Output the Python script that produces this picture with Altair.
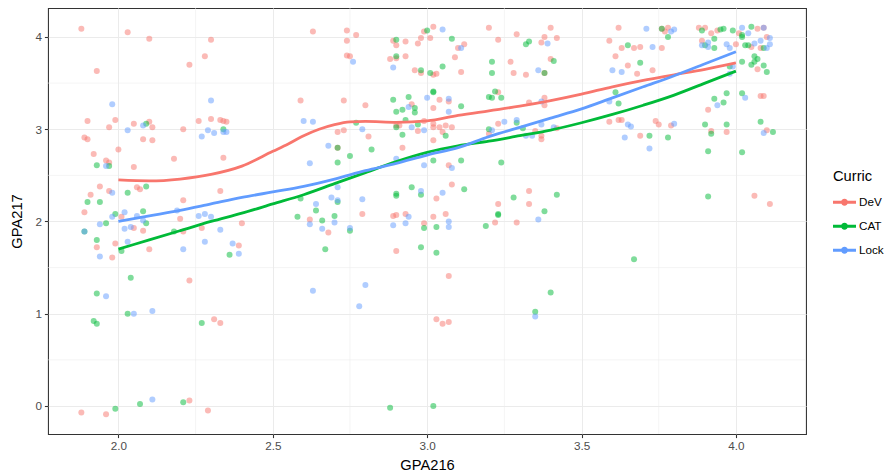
import altair as alt
import pandas as pd

curric = ["DeV", "CAT", "Lock"]
colors = ["#F8766D", "#00BA38", "#619CFF"]

dev_x = [1.88,2.03,2.10,1.93,1.90,1.99,1.97,2.05,2.10,2.11,1.89,1.90,2.08,2.11,2.00,1.92,2.18,1.96,1.97,2.05,
         1.94,1.97,2.06,2.07,1.91,1.89,2.01,2.20,2.05,2.08,1.93,1.99,1.98,2.10,2.21,2.27,2.40,2.39,2.23,2.31,
         2.33,1.88,1.96,2.23,2.29,2.30,2.28,2.23,2.26,2.30,2.33,2.34,2.35,2.21,2.34,2.33,2.21,2.59,2.63,2.74,
         2.74,2.77,2.74,2.75,2.89,2.90,2.93,2.97,2.98,2.99,3.01,3.02,3.10,3.12,3.09,2.88,2.90,2.93,2.96,2.98,
         3.02,3.03,3.11,2.73,2.80,3.04,3.07,2.95,3.02,2.71,2.73,2.81,2.90,2.91,2.99,2.97,3.02,3.02,3.04,3.06,
         3.08,3.05,3.02,2.92,2.71,3.07,3.08,3.03,2.79,2.89,2.90,2.93,3.02,3.06,2.62,2.68,2.99,3.22,3.29,2.90,
         3.07,3.03,3.05,3.07,3.20,3.23,3.29,3.40,3.38,3.37,3.42,3.27,3.28,3.32,3.38,3.40,3.59,3.62,3.63,3.61,
         3.65,3.23,3.33,3.38,3.38,3.20,3.23,3.35,3.37,3.37,3.42,3.59,3.62,3.63,3.23,3.33,3.33,3.76,3.78,3.77,
         3.88,3.90,3.92,3.94,4.01,4.07,4.09,4.10,3.89,4.00,4.05,4.08,3.67,3.69,3.76,3.68,3.73,4.07,4.08,4.09,
         3.91,3.74,3.75,3.79,3.92,3.97,4.10,3.69,4.06,4.11]
dev_y = [4.09,4.05,3.98,3.63,3.09,3.10,3.02,3.06,3.08,3.02,2.91,2.89,2.89,2.88,2.78,2.73,2.68,2.66,2.64,2.59,
         2.38,2.33,2.37,2.35,2.29,2.10,2.05,2.03,1.93,1.90,1.72,1.76,1.61,1.70,1.89,1.93,1.98,1.74,1.36,0.94,
         0.90,-0.07,-0.09,0.06,-0.05,3.97,3.79,3.70,3.09,3.11,3.10,3.09,3.08,3.00,2.69,2.33,2.23,3.31,4.06,4.07,
         3.96,4.02,3.80,3.79,3.96,3.91,3.95,3.93,3.99,4.06,3.99,4.11,3.88,3.92,3.78,3.76,3.77,3.79,3.64,3.61,
         3.59,3.60,3.62,3.31,3.26,3.32,3.30,3.27,3.23,2.97,2.99,2.92,3.04,3.04,3.09,2.98,3.02,3.06,3.02,3.04,
         3.02,2.97,2.88,2.80,2.80,2.61,2.40,2.25,2.08,2.06,2.07,2.08,2.05,2.08,2.02,1.88,1.98,1.99,1.99,1.68,
         1.41,0.94,0.89,0.91,4.10,3.97,4.03,4.10,4.00,3.94,3.99,3.73,3.61,3.59,3.61,3.76,3.96,4.10,3.88,3.79,
         3.69,3.40,3.29,3.34,3.26,2.95,3.06,2.98,2.93,2.89,3.01,3.08,3.10,3.10,2.19,2.33,2.19,4.09,4.10,4.06,
         4.10,4.10,4.04,4.07,4.04,4.09,4.10,4.00,3.96,3.92,3.89,3.88,3.88,3.89,3.88,3.60,3.64,3.65,3.36,3.36,
         3.21,3.09,3.05,3.04,2.98,2.97,2.99,2.93,2.28,2.19]

cat_x = [2.09,1.93,1.97,2.03,2.09,1.90,1.94,2.08,1.99,1.96,2.09,1.89,1.93,2.01,2.18,2.36,2.58,2.04,1.93,2.03,
         1.92,1.93,2.27,2.07,1.99,2.21,2.34,2.59,2.90,3.00,3.08,2.90,2.98,3.01,3.05,2.89,2.94,3.02,3.02,3.11,
         2.92,2.90,2.96,2.96,2.77,2.90,2.93,2.97,3.06,2.92,2.71,2.75,2.82,2.71,3.02,3.11,2.95,2.98,2.90,2.90,
         3.12,2.71,2.64,2.70,2.66,2.75,2.99,3.03,3.19,3.23,2.67,2.98,3.03,3.40,3.35,2.88,3.02,3.67,3.32,3.33,
         3.21,3.21,3.38,3.41,3.65,3.20,3.21,3.22,3.24,3.20,3.29,3.31,3.61,3.62,3.24,3.28,3.38,3.42,3.23,3.76,
         3.78,3.89,3.95,3.96,3.99,4.05,4.02,4.02,3.93,3.90,3.93,4.03,4.04,4.09,3.69,4.02,4.06,4.05,4.07,4.06,
         4.09,4.10,3.98,3.97,4.02,3.93,3.96,3.90,3.97,3.92,4.08,4.12,3.72,3.78,3.91,4.02,3.91]
cat_y = [3.06,2.61,2.60,2.31,2.38,2.21,2.21,2.11,2.08,1.98,1.98,1.89,1.80,1.68,1.89,1.64,2.05,1.39,1.22,1.00,
         0.92,0.89,0.90,0.02,-0.03,0.04,3.00,2.25,3.97,4.07,3.98,3.79,3.64,3.61,3.68,3.32,3.35,3.41,3.40,3.25,
         3.21,3.19,3.23,3.18,3.07,3.02,3.10,3.05,2.93,2.94,2.80,2.71,2.78,2.64,2.66,2.66,2.37,2.29,2.28,2.30,
         2.35,2.21,2.12,2.06,2.01,1.90,1.93,1.94,1.95,2.07,1.70,1.72,1.66,1.23,1.02,-0.02,0.00,1.59,3.92,3.95,
         3.73,3.61,3.61,3.74,3.91,3.35,3.34,3.41,3.34,3.00,3.07,3.01,3.40,3.28,2.64,2.26,2.11,2.29,2.08,4.09,
         4.00,4.07,4.08,4.09,4.07,4.11,4.00,4.02,3.98,3.91,3.88,3.91,3.91,3.88,3.72,3.73,3.79,3.70,3.76,3.73,
         3.69,3.62,3.68,3.39,3.39,3.33,3.29,3.05,3.05,2.95,3.08,2.97,2.93,2.91,2.76,2.75,2.27]

lock_x = [1.98,2.03,2.08,1.96,1.98,2.02,1.98,2.06,2.19,1.94,1.89,2.02,2.04,2.08,2.03,1.94,2.21,2.26,2.30,2.28,
          2.33,2.37,2.39,1.96,2.05,2.11,2.11,2.30,2.29,2.31,2.27,2.34,2.35,2.28,2.60,2.62,2.76,2.89,3.05,3.11,
          3.00,3.07,2.94,3.07,2.63,2.79,2.95,2.99,2.68,2.90,2.99,3.08,2.98,3.05,2.71,2.69,2.71,2.79,2.64,2.94,
          2.62,2.70,2.66,2.75,2.89,2.93,3.07,3.07,3.36,2.63,2.80,2.78,3.35,3.39,3.36,3.60,3.63,3.37,3.21,3.25,
          3.29,3.32,3.34,3.37,3.41,3.59,3.65,3.64,3.71,3.79,3.80,4.02,4.09,4.04,4.11,3.91,3.89,3.91,3.97,3.98,
          4.06,4.08,4.10,4.11,3.73,3.99,3.98,4.03,3.94,3.66,3.80,4.09,3.72]
lock_y = [3.27,2.99,3.04,2.60,2.31,2.10,2.05,2.06,2.12,1.97,1.89,1.92,1.94,2.01,1.78,1.62,1.70,2.06,2.05,1.78,
          1.91,1.76,1.65,1.19,1.00,1.03,0.07,3.31,2.99,2.96,2.92,2.97,2.97,2.08,3.09,2.63,3.73,3.67,4.08,3.88,
          3.34,3.33,3.24,3.19,3.08,3.00,3.02,2.99,2.82,2.68,2.61,2.58,2.33,2.31,2.37,2.26,2.23,2.24,2.19,2.05,
          1.97,1.99,1.92,1.93,1.96,1.98,2.00,1.94,2.02,1.25,1.31,1.08,0.97,3.93,3.64,3.64,3.62,3.30,2.99,3.08,
          3.10,2.93,2.93,3.05,3.02,3.30,3.05,2.91,4.09,4.06,4.08,4.10,4.10,4.04,3.99,3.94,3.91,3.89,3.92,3.88,
          3.93,3.96,3.88,3.92,3.89,3.68,3.60,3.34,3.26,3.03,3.06,2.96,2.79]

# smoothed (loess) curves
dev_sx = [2.0,2.1,2.2,2.3,2.4,2.5,2.55,2.6,2.65,2.7,2.75,2.8,2.9,3.0,3.1,3.2,3.3,3.4,3.5,3.6,3.7,3.8,3.9,4.0]
dev_sy = [2.45,2.44,2.46,2.51,2.60,2.76,2.84,2.93,3.00,3.05,3.08,3.085,3.075,3.09,3.15,3.20,3.25,3.31,3.38,3.46,3.53,3.59,3.65,3.72]
cat_sx = [2.0,2.1,2.2,2.3,2.4,2.5,2.6,2.7,2.8,2.9,3.0,3.1,3.2,3.3,3.4,3.5,3.6,3.7,3.8,3.9,4.0]
cat_sy = [1.70,1.80,1.90,2.00,2.09,2.19,2.29,2.41,2.53,2.65,2.75,2.82,2.87,2.93,2.99,3.07,3.16,3.26,3.37,3.50,3.63]
lock_sx = [2.0,2.1,2.2,2.3,2.4,2.5,2.6,2.7,2.8,2.9,3.0,3.1,3.2,3.3,3.4,3.5,3.6,3.7,3.8,3.9,4.0]
lock_sy = [2.00,2.06,2.12,2.19,2.26,2.32,2.38,2.46,2.55,2.63,2.72,2.80,2.92,3.02,3.12,3.22,3.34,3.46,3.58,3.71,3.84]

x_major = [2.0, 2.5, 3.0, 3.5, 4.0]
x_minor = [2.25, 2.75, 3.25, 3.75]
y_major = [0, 1, 2, 3, 4]
y_minor = [0.5, 1.5, 2.5, 3.5]

pts = pd.concat([
    pd.DataFrame({"GPA216": dev_x, "GPA217": dev_y, "Curric": "DeV"}),
    pd.DataFrame({"GPA216": cat_x, "GPA217": cat_y, "Curric": "CAT"}),
    pd.DataFrame({"GPA216": lock_x, "GPA217": lock_y, "Curric": "Lock"}),
], ignore_index=True)

smooth = pd.concat([
    pd.DataFrame({"GPA216": dev_sx, "GPA217": dev_sy, "Curric": "DeV"}),
    pd.DataFrame({"GPA216": cat_sx, "GPA217": cat_sy, "Curric": "CAT"}),
    pd.DataFrame({"GPA216": lock_sx, "GPA217": lock_sy, "Curric": "Lock"}),
], ignore_index=True)

FONT = "Liberation Sans"
x_scale = alt.Scale(domain=[1.772, 4.227], nice=False, zero=False)
y_scale = alt.Scale(domain=[-0.304, 4.314], nice=False, zero=False)
color_scale = alt.Scale(domain=curric, range=colors)

x_axis = alt.Axis(values=x_major, format=".1f", title="GPA216", labelPadding=3, titlePadding=5)
y_axis = alt.Axis(values=y_major, format="d", title="GPA217", labelPadding=3, titlePadding=10)

key_path = "M-1,-0.13H1V0.13H-1Z M0.3,0A0.3,0.3 0 1 1 -0.3,0A0.3,0.3 0 1 1 0.3,0Z"
legend = alt.Legend(
    orient="none", legendX=785, legendY=161, title="Curric",
    symbolType=key_path, symbolSize=529, symbolStrokeWidth=0, symbolOpacity=1,
    rowPadding=5, labelOffset=3, titlePadding=7,
    labelFontSize=11.7, titleFontSize=14.7, labelColor="black", titleColor="black",
    titleFontWeight="normal", labelFont=FONT, titleFont=FONT,
)

color_enc = alt.Color("Curric:N", scale=color_scale, legend=legend, sort=curric)

minor_v = alt.Chart(pd.DataFrame({"GPA216": x_minor})).mark_rule(
    color="#EBEBEB", strokeWidth=0.55
).encode(x=alt.X("GPA216:Q", scale=x_scale, axis=x_axis))

minor_h = alt.Chart(pd.DataFrame({"GPA217": y_minor})).mark_rule(
    color="#EBEBEB", strokeWidth=0.55
).encode(y=alt.Y("GPA217:Q", scale=y_scale, axis=y_axis))

points = alt.Chart(pts).mark_circle(size=36, opacity=0.5).encode(
    x=alt.X("GPA216:Q", scale=x_scale, axis=x_axis),
    y=alt.Y("GPA217:Q", scale=y_scale, axis=y_axis),
    color=color_enc,
)

lines = alt.Chart(smooth).mark_line(strokeWidth=2.8, interpolate="monotone").encode(
    x=alt.X("GPA216:Q", scale=x_scale, axis=x_axis),
    y=alt.Y("GPA217:Q", scale=y_scale, axis=y_axis),
    color=color_enc,
    detail="Curric:N",
    order="GPA216:Q",
)

chart = alt.layer(minor_v, minor_h, points, lines).properties(
    width=758, height=426,
    autosize=alt.AutoSizeParams(type="none"),
    padding={"left": 40, "top": 0, "right": 82, "bottom": 41},
).configure_view(
    stroke="#333333", strokeWidth=1.07
).configure_axis(
    domain=False, tickColor="#333333", tickSize=3.6, tickWidth=1.07,
    labelColor="#4D4D4D", labelFontSize=11.7, labelFont=FONT,
    titleFont=FONT, titleFontSize=14.7, titleColor="black", titleFontWeight="normal",
    gridColor="#EBEBEB", gridWidth=1.07,
)

chart.save("out.html", embed_options={"renderer": "svg", "actions": False})
